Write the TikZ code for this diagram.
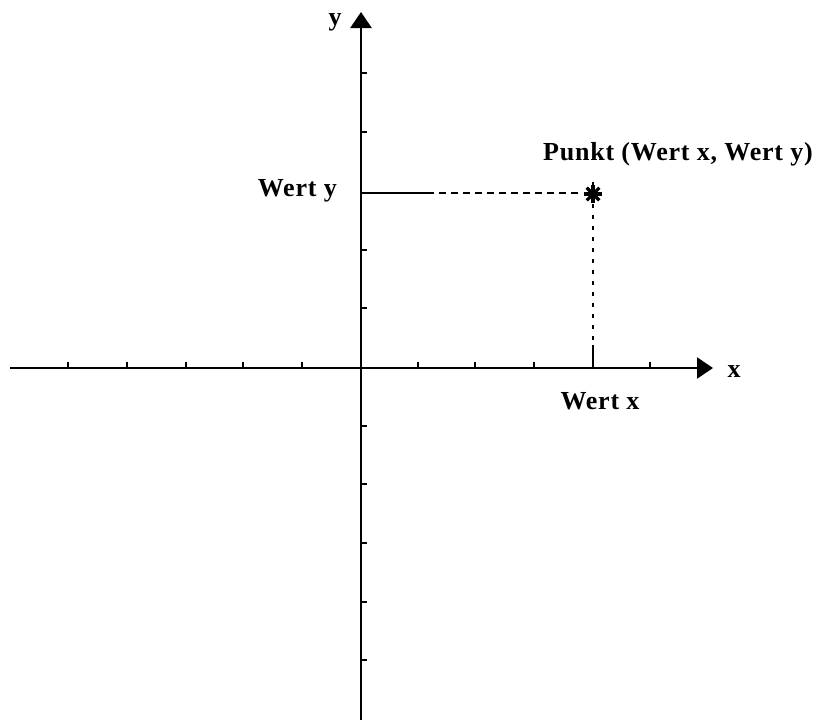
\documentclass[tikz,border=0pt]{standalone}
\usepackage{fontspec}
\setmainfont{Liberation Serif}[LetterSpace=3]
\usetikzlibrary{arrows.meta}
\tikzset{
  axis/.style={line width=2.4pt,-{Triangle[length=16pt,width=21pt]}},
  tick/.style={line width=2pt},
  guide/.style={line width=1.5pt,dash pattern=on 7pt off 5pt},
  vguide/.style={line width=1.5pt,dash pattern=on 4pt off 7pt},
  lbl/.style={font=\fontsize{26}{30}\selectfont\bfseries,inner sep=0pt},
  starline/.style={line width=3.2pt},
}
\begin{document}
\begin{tikzpicture}[x=1pt,y=-1pt]
\useasboundingbox (0,0) rectangle (829,720);
% axes
\coordinate (xs) at (10,368);
\coordinate (xe) at (713,368);
\coordinate (ys) at (361,720);
\coordinate (ye) at (361,12);
\coordinate (O) at (361,368);
\draw[axis] (xs) -- (xe);
\draw[axis] (ys) -- (ye);
% x ticks
\foreach \t in {68,127,186,243,302,418,475,534,650}
  \draw[tick] (\t,368) -- (\t,362);
% y ticks
\foreach \t in {73,132,250,308,426,484,543,602,660}
  \draw[tick] (361,\t) -- (367,\t);
% point
\coordinate (P) at (593,194);
\coordinate (Py) at (361,193);
\coordinate (Pm) at (427,193);
\coordinate (Px) at (593,368);
\coordinate (Pt) at (593,345);
\draw[line width=1.8pt] (Py) -- (Pm);
\draw[guide] (Pm) -- ([xshift=-11pt]P |- Pm);
\draw[vguide] ([yshift=12pt]P) -- (Pt);
\draw[line width=2pt] (Pt) -- (Px);
\foreach \a in {0,45,90,135}
  \draw[starline] ([shift={(\a:9pt)}]P) -- ([shift={(\a+180:9pt)}]P);
% labels
\node[lbl,anchor=base] (ly) at (335,25) {y};
\node[lbl,anchor=base] (lx) at (734,377) {x};
\node[lbl,anchor=base east] (wy) at (337,196) {Wert y};
\node[lbl,anchor=base] (wx) at (600,409) {Wert x};
\node[lbl,anchor=base] (pk) at (678,160) {Punkt (Wert x, Wert y)};
\end{tikzpicture}
\end{document}
